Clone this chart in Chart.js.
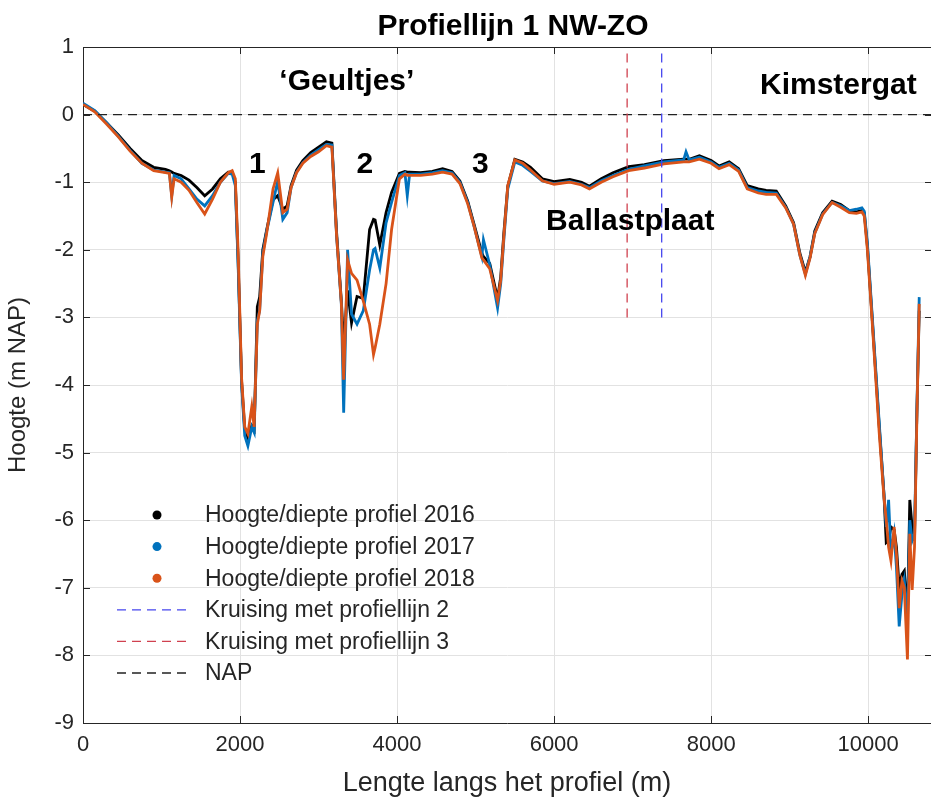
<!DOCTYPE html>
<html>
<head>
<meta charset="utf-8">
<title>Profiellijn 1 NW-ZO</title>
<script src="https://cdn.jsdelivr.net/npm/chart.js@4/dist/chart.umd.min.js"></script>
<style>
  html, body { margin: 0; padding: 0; background: #fff; }
  canvas { display: block; }
</style>
</head>
<body>
<canvas id="chart" width="931" height="803"></canvas>
<script>
// afstand langs het profiel (m)
const distance = [
  0, 150, 300, 450, 600, 750, 900, 1050, 1100, 1130,
  1160, 1250, 1350, 1450, 1550, 1650, 1750, 1850, 1900, 1940,
  1975, 2020, 2060, 2100, 2150, 2180, 2220, 2250, 2290, 2340,
  2420, 2480, 2545, 2600, 2650, 2720, 2800, 2900, 3000, 3100,
  3170, 3230, 3290, 3320, 3370, 3420, 3490, 3570, 3650, 3700,
  3720, 3780, 3860, 3930, 4030, 4100, 4130, 4160, 4300, 4450,
  4580, 4700, 4800, 4900, 4980, 5080, 5100, 5180, 5280, 5320,
  5360, 5410, 5500, 5600, 5700, 5850, 6000, 6200, 6350, 6450,
  6600, 6750, 6950, 7150, 7400, 7650, 7680, 7720, 7850, 8000,
  8100, 8230, 8350, 8460, 8600, 8700, 8830, 8950, 9050, 9130,
  9200, 9260, 9320, 9420, 9540, 9650, 9760, 9850, 9920, 9950,
  9990, 10050, 10140, 10200, 10230, 10260, 10290, 10330, 10360, 10395,
  10430, 10460, 10500, 10530, 10560, 10590, 10620, 10650
];

// hoogte t.o.v. NAP (m)
const height2016 = [
  0.15, 0.05, -0.12, -0.30, -0.50, -0.68, -0.78, -0.81, -0.83, -0.85,
  -0.87, -0.90, -0.97, -1.08, -1.20, -1.10, -0.95, -0.85, -0.85, -1.00,
  -2.14, -3.95, -4.66, -4.78, -4.60, -4.66, -2.84, -2.70, -2.00, -1.70,
  -1.26, -1.20, -1.40, -1.35, -1.05, -0.82, -0.68, -0.56, -0.48, -0.40,
  -0.42, -1.75, -2.75, -3.40, -2.60, -3.08, -2.69, -2.72, -1.70, -1.55,
  -1.56, -1.93, -1.45, -1.15, -0.87, -0.84, -0.85, -0.85, -0.86, -0.84,
  -0.80, -0.84, -0.98, -1.28, -1.62, -2.05, -2.10, -2.20, -2.72, -2.40,
  -1.75, -1.06, -0.66, -0.70, -0.78, -0.95, -0.99, -0.96, -1.00, -1.06,
  -0.95, -0.86, -0.77, -0.74, -0.68, -0.66, -0.66, -0.66, -0.61, -0.68,
  -0.76, -0.70, -0.80, -1.05, -1.10, -1.12, -1.13, -1.35, -1.60, -2.05,
  -2.33, -2.10, -1.72, -1.45, -1.28, -1.33, -1.42, -1.44, -1.42, -1.45,
  -1.95, -3.00, -4.60, -5.60, -6.33, -6.30, -6.10, -6.14, -6.40, -7.00,
  -6.80, -6.75, -7.40, -5.70, -6.10, -6.30, -4.40, -2.90
];
const height2017 = [
  0.17, 0.06, -0.12, -0.32, -0.53, -0.72, -0.82, -0.85, -0.86, -1.20,
  -0.90, -0.95, -1.10, -1.25, -1.35, -1.20, -1.00, -0.87, -0.88, -1.05,
  -2.20, -4.00, -4.75, -4.90, -4.62, -4.70, -3.05, -2.90, -2.05, -1.72,
  -1.30, -0.98, -1.55, -1.45, -1.08, -0.85, -0.71, -0.60, -0.52, -0.44,
  -0.45, -1.80, -2.80, -4.41, -2.00, -2.95, -3.10, -2.90, -2.30, -2.00,
  -1.98, -2.27, -1.60, -1.30, -0.90, -0.86, -1.20, -0.88, -0.88, -0.86,
  -0.83, -0.86, -1.00, -1.30, -1.65, -2.10, -1.85, -2.22, -2.86, -2.50,
  -1.85, -1.10, -0.70, -0.75, -0.84, -0.98, -1.02, -0.99, -1.03, -1.08,
  -0.98, -0.90, -0.81, -0.76, -0.70, -0.67, -0.55, -0.67, -0.63, -0.70,
  -0.78, -0.72, -0.82, -1.08, -1.13, -1.15, -1.16, -1.37, -1.62, -2.08,
  -2.36, -2.10, -1.75, -1.47, -1.30, -1.35, -1.42, -1.40, -1.38, -1.43,
  -1.90, -2.95, -4.55, -5.60, -6.10, -5.70, -6.50, -6.20, -6.70, -7.57,
  -7.10, -6.90, -7.50, -6.00, -6.30, -6.20, -4.40, -2.70
];
const height2018 = [
  0.15, 0.04, -0.14, -0.33, -0.54, -0.72, -0.83, -0.86, -0.87, -1.22,
  -0.95, -1.00, -1.12, -1.30, -1.47, -1.25, -1.00, -0.86, -0.83, -0.95,
  -2.00, -3.90, -4.62, -4.72, -4.32, -4.62, -3.10, -2.90, -2.10, -1.75,
  -1.10, -0.86, -1.45, -1.40, -1.08, -0.86, -0.72, -0.62, -0.55, -0.46,
  -0.48, -1.80, -2.78, -3.92, -2.15, -2.35, -2.45, -2.76, -3.10, -3.55,
  -3.45, -3.10, -2.50, -1.70, -0.95, -0.88, -0.90, -0.90, -0.90, -0.88,
  -0.85, -0.88, -1.02, -1.32, -1.65, -2.12, -2.15, -2.28, -2.75, -2.45,
  -1.80, -1.05, -0.67, -0.72, -0.82, -0.98, -1.03, -1.00, -1.04, -1.10,
  -1.00, -0.92, -0.83, -0.79, -0.73, -0.70, -0.70, -0.70, -0.66, -0.72,
  -0.80, -0.74, -0.84, -1.10, -1.16, -1.18, -1.18, -1.38, -1.62, -2.08,
  -2.38, -2.12, -1.76, -1.48, -1.30, -1.37, -1.45, -1.46, -1.44, -1.50,
  -2.00, -3.05, -4.70, -5.65, -6.00, -6.40, -6.60, -6.10, -6.50, -7.30,
  -6.90, -7.00, -8.06, -6.20, -7.03, -6.40, -4.50, -2.80
];

// kruisingen en referentie
const crossing2 = 7370;
const crossing3 = 6930;
const crossingRange = [-3, 1];
const napLevel = 0;
const xRange = [0, 10800];
const yRange = [-9, 1];

const xTicks = [0, 2000, 4000, 6000, 8000, 10000];
const yTicks = [-9, -8, -7, -6, -5, -4, -3, -2, -1, 0, 1];

const legendLabels = [
  "Hoogte/diepte profiel 2016",
  "Hoogte/diepte profiel 2017",
  "Hoogte/diepte profiel 2018",
  "Kruising met profiellijn 2",
  "Kruising met profiellijn 3",
  "NAP"
];

const annotationLabels = ["\u2018Geultjes\u2019", "Kimstergat", "1", "2", "3", "Ballastplaat"];
const annotationX = [3360, 9620, 2220, 3590, 5060, 6970];
const annotationY = [0.49, 0.43, -0.74, -0.74, -0.74, -1.58];

const font = "'Liberation Sans', Arial, Helvetica, sans-serif";
const axisColor = "#262626";
const gridColor = "#e2e2e2";
const colors = ["#000000", "#0072bd", "#d95319", "#4646ee", "#d0414f", "#222222"];

function points(values) {
  return distance.map((x, i) => ({ x: x, y: values[i] }));
}

const decorations = {
  id: "decorations",
  afterDraw(chart) {
    const { ctx, chartArea: a, scales } = chart;
    const x = scales.x;
    const y = scales.y;
    ctx.save();

    // bovenrand en ticks naar binnen
    ctx.strokeStyle = axisColor;
    ctx.lineWidth = 1;
    ctx.beginPath();
    ctx.moveTo(a.left, a.top + 0.5);
    ctx.lineTo(a.right, a.top + 0.5);
    xTicks.forEach(v => {
      const px = Math.round(x.getPixelForValue(v)) + 0.5;
      ctx.moveTo(px, a.bottom);
      ctx.lineTo(px, a.bottom - 7);
      ctx.moveTo(px, a.top);
      ctx.lineTo(px, a.top + 7);
    });
    yTicks.forEach(v => {
      const py = Math.round(y.getPixelForValue(v)) + 0.5;
      ctx.moveTo(a.left, py);
      ctx.lineTo(a.left + 7, py);
      ctx.moveTo(a.right, py);
      ctx.lineTo(a.right - 6, py);
    });
    ctx.stroke();

    // titel
    ctx.fillStyle = "#000";
    ctx.textAlign = "center";
    ctx.textBaseline = "middle";
    ctx.font = "bold 30px " + font;
    ctx.fillText("Profiellijn 1 NW-ZO", (a.left + a.right) / 2 + 6, 27);

    // teksten in de figuur
    annotationLabels.forEach((t, i) => {
      ctx.fillText(t, x.getPixelForValue(annotationX[i]), y.getPixelForValue(annotationY[i]));
    });

    // legenda
    ctx.font = "23px " + font;
    ctx.textAlign = "left";
    legendLabels.forEach((t, i) => {
      const ry = 515 + i * 31.6;
      if (i < 3) {
        ctx.fillStyle = colors[i];
        ctx.beginPath();
        ctx.arc(157, ry, 4.5, 0, Math.PI * 2);
        ctx.fill();
      } else {
        ctx.strokeStyle = colors[i];
        ctx.lineWidth = 1.3;
        ctx.setLineDash([9, 6]);
        ctx.beginPath();
        ctx.moveTo(117, ry);
        ctx.lineTo(192, ry);
        ctx.stroke();
        ctx.setLineDash([]);
      }
      ctx.fillStyle = axisColor;
      ctx.fillText(t, 205, ry + 1);
    });
    ctx.restore();
  }
};

new Chart(document.getElementById("chart"), {
  type: "scatter",
  data: {
    datasets: [
      {
        label: legendLabels[0],
        data: points(height2016),
        borderColor: colors[0],
        order: 3
      },
      {
        label: legendLabels[1],
        data: points(height2017),
        borderColor: colors[1],
        order: 2
      },
      {
        label: legendLabels[2],
        data: points(height2018),
        borderColor: colors[2],
        order: 1
      },
      {
        label: legendLabels[3],
        data: crossingRange.map(v => ({ x: crossing2, y: v })),
        borderColor: colors[3],
        borderWidth: 1.3,
        borderDash: [9, 6],
        order: 0
      },
      {
        label: legendLabels[4],
        data: crossingRange.map(v => ({ x: crossing3, y: v })),
        borderColor: colors[4],
        borderWidth: 1.3,
        borderDash: [9, 6],
        order: 0
      },
      {
        label: legendLabels[5],
        data: xRange.map(v => ({ x: v, y: napLevel })),
        borderColor: colors[5],
        borderWidth: 1.3,
        borderDash: [9, 6],
        order: 0
      }
    ]
  },
  options: {
    responsive: false,
    animation: false,
    devicePixelRatio: 1,
    layout: {
      padding: { top: 47, left: 0, right: 0, bottom: 0 }
    },
    elements: {
      point: { radius: 0, hoverRadius: 0 },
      line: { borderWidth: 2.8, tension: 0, fill: false }
    },
    datasets: {
      scatter: { showLine: true }
    },
    plugins: {
      legend: { display: false },
      tooltip: { enabled: false }
    },
    scales: {
      x: {
        type: "linear",
        min: xRange[0],
        max: xRange[1],
        afterBuildTicks: s => { s.ticks = xTicks.map(v => ({ value: v })); },
        afterFit: s => { s.height = 80; },
        ticks: {
          color: axisColor,
          font: { family: font, size: 22 },
          padding: 9,
          maxRotation: 0,
          callback: v => String(v)
        },
        grid: { color: gridColor, drawTicks: false },
        border: { color: axisColor, width: 1 },
        title: {
          display: true,
          text: "Lengte langs het profiel (m)",
          color: axisColor,
          font: { family: font, size: 27 },
          padding: { top: 0, bottom: 3 }
        }
      },
      y: {
        type: "linear",
        min: yRange[0],
        max: yRange[1],
        afterBuildTicks: s => { s.ticks = yTicks.map(v => ({ value: v })); },
        afterFit: s => { s.width = 83; },
        ticks: {
          color: axisColor,
          font: { family: font, size: 22 },
          padding: 9,
          callback: v => String(v)
        },
        grid: { color: gridColor, drawTicks: false },
        border: { color: axisColor, width: 1 },
        title: {
          display: true,
          text: "Hoogte (m NAP)",
          color: axisColor,
          font: { family: font, size: 24 },
          padding: { top: 4, bottom: 0 }
        }
      }
    }
  },
  plugins: [decorations]
});
</script>
</body>
</html>
